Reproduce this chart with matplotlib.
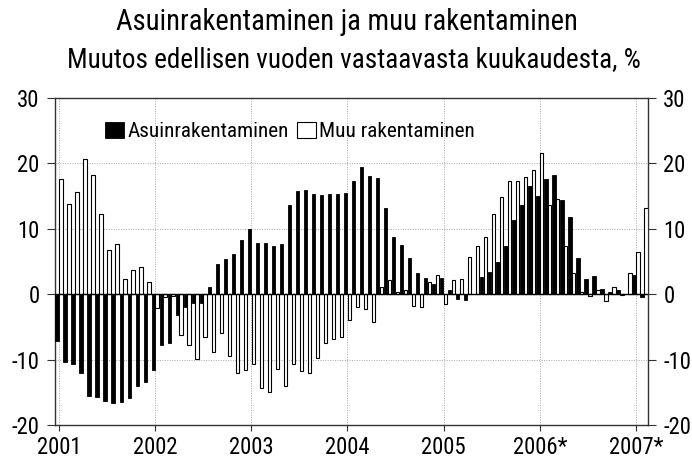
import matplotlib
matplotlib.use("Agg")
import matplotlib.pyplot as plt
from matplotlib import font_manager as fm
import numpy as np

# pick a narrow sans font if one is installed
names = {f.name for f in fm.fontManager.ttflist}
narrow = None
for cand in ['Liberation Sans Narrow', 'Arial Narrow', 'Roboto Condensed', 'Open Sans Condensed',
             'Noto Sans Condensed', 'Noto Sans Cond', 'DejaVu Sans Condensed']:
    if cand in names:
        narrow = cand
        break
if narrow is None:
    for n in sorted(names):
        if ('Narrow' in n or 'Condensed' in n) and 'Mono' not in n and 'Serif' not in n:
            narrow = n
            break
if narrow is not None:
    plt.rcParams['font.family'] = [narrow, 'DejaVu Sans']
else:
    plt.rcParams['font.family'] = ['DejaVu Sans']
    plt.rcParams['font.stretch'] = 'condensed'
plt.rcParams['axes.unicode_minus'] = False

years = ['2001', '2002', '2003', '2004', '2005', '2006*', '2007*']

asuin = [
    -7.1, -10.4, -10.6, -12.1, -15.5, -15.7, -16.4, -16.7, -16.5, -15.9, -14.0, -13.4,
    -11.6, -7.7, -7.5, -3.2, -2.0, -1.4, -1.3, 1.1, 4.6, 5.4, 6.2, 8.3,
    10.0, 7.8, 7.9, 7.3, 7.6, 13.6, 15.8, 15.9, 15.3, 15.1, 15.3, 15.3,
    15.5, 17.3, 19.4, 18.0, 17.7, 13.2, 8.8, 7.5, 5.5, 3.3, 2.5, 1.5,
    2.5, 0.7, -0.7, -0.9, 0.1, 2.6, 3.4, 5.0, 7.3, 11.4, 13.7, 16.5,
    15.0, 17.6, 18.2, 14.4, 11.8, 5.5, 2.4, 2.8, 0.8, 0.4, 0.7, 0.0,
    2.9, -0.5,
]
muu = [
    17.6, 13.8, 15.7, 20.7, 18.2, 12.2, 6.7, 7.6, 2.3, 3.7, 4.1, 1.8,
    -2.1, -0.5, -0.3, -6.2, -7.8, -9.9, -6.6, -8.8, -6.0, -9.5, -12.1, -11.6,
    -10.7, -14.3, -14.9, -11.5, -14.0, -10.6, -11.8, -12.1, -9.8, -7.4, -6.9, -6.6,
    -4.0, -2.0, -2.2, -4.3, 1.1, 2.2, 0.4, 0.6, -1.8, -2.0, 1.9, 2.9,
    -1.5, 2.2, 2.4, 5.7, 7.3, 8.7, 12.3, 14.8, 17.3, 17.3, 17.9, 19.0,
    21.6, 13.7, 14.6, 7.4, 3.3, 0.4, -0.3, 0.7, -1.0, 1.1, -0.1, 3.3,
    6.4, 13.2,
]
series_names = ['Asuinrakentaminen', 'Muu rakentaminen']
title = 'Asuinrakentaminen ja muu rakentaminen'
subtitle = 'Muutos edellisen vuoden vastaavasta kuukaudesta, %'

x = np.arange(len(asuin))

fig = plt.figure(figsize=(6.92, 4.61), dpi=100)
ax = fig.add_axes([55/692, 1-425/461, (648-55)/692, (425-98)/461])

w = 0.42
ax.bar(x - 0.24, asuin, width=w, color='black', edgecolor='black', linewidth=0.6,
       label=series_names[0], zorder=3)
ax.bar(x + 0.24, muu, width=w, color='white', edgecolor='black', linewidth=0.8,
       label=series_names[1], zorder=3)

ax.axhline(0, color='black', linewidth=1.0, zorder=4)

ax.set_xlim(-0.5, len(asuin) - 0.5)
ax.set_ylim(-20, 30)
ax.set_yticks(np.arange(-20, 31, 10))
ax.set_xticks(np.arange(0, len(asuin), 12))
ax.set_xticklabels(years)

ax.grid(True, which='major', linestyle=(0, (1, 1.5)), color='#a8a8a8', linewidth=0.7, zorder=0)
ax.set_axisbelow(True)

for s in ax.spines.values():
    s.set_color('#333333')
    s.set_linewidth(1.0)

ax.tick_params(axis='y', which='both', left=True, right=True, labelleft=True, labelright=True,
               direction='out', length=6, labelsize=17, color='#333333', pad=5)
ax.tick_params(axis='x', direction='out', length=4, labelsize=17, color='#333333', pad=4)

leg = ax.legend(loc='upper left', bbox_to_anchor=(0.07, 0.955), ncol=2, frameon=False,
                fontsize=16, handlelength=0.85, handleheight=0.75, handletextpad=0.15,
                columnspacing=0.35, borderaxespad=0.0)

t1 = fig.text(347/692, 1 - 22/461, title, ha='center', va='center', fontsize=22)
t2 = fig.text(354/692, 1 - 60/461, subtitle, ha='center', va='center', fontsize=18.5)

# fit text widths to the reference's widths (in pixels)
def fit_width(t, target_px, max_scale=1.25):
    fig.canvas.draw()
    r = fig.canvas.get_renderer()
    bw = t.get_window_extent(renderer=r).width
    if bw > 0:
        s = min(target_px / bw, max_scale)
        t.set_fontsize(t.get_fontsize() * s)

fit_width(t1, 460)
fit_width(t2, 572)
fig.canvas.draw()
r = fig.canvas.get_renderer()
lt = leg.get_texts()[0]
bw = lt.get_window_extent(renderer=r).width
if bw > 0:
    s = min(163 / bw, 1.25)
    for tt in leg.get_texts():
        tt.set_fontsize(tt.get_fontsize() * s)
lab = ax.get_xticklabels()[0]
bw = lab.get_window_extent(renderer=r).width
if bw > 0:
    s = min(45 / bw, 1.25)
    ax.tick_params(axis='both', labelsize=17 * s)

fig.savefig('out.png', dpi=100)
